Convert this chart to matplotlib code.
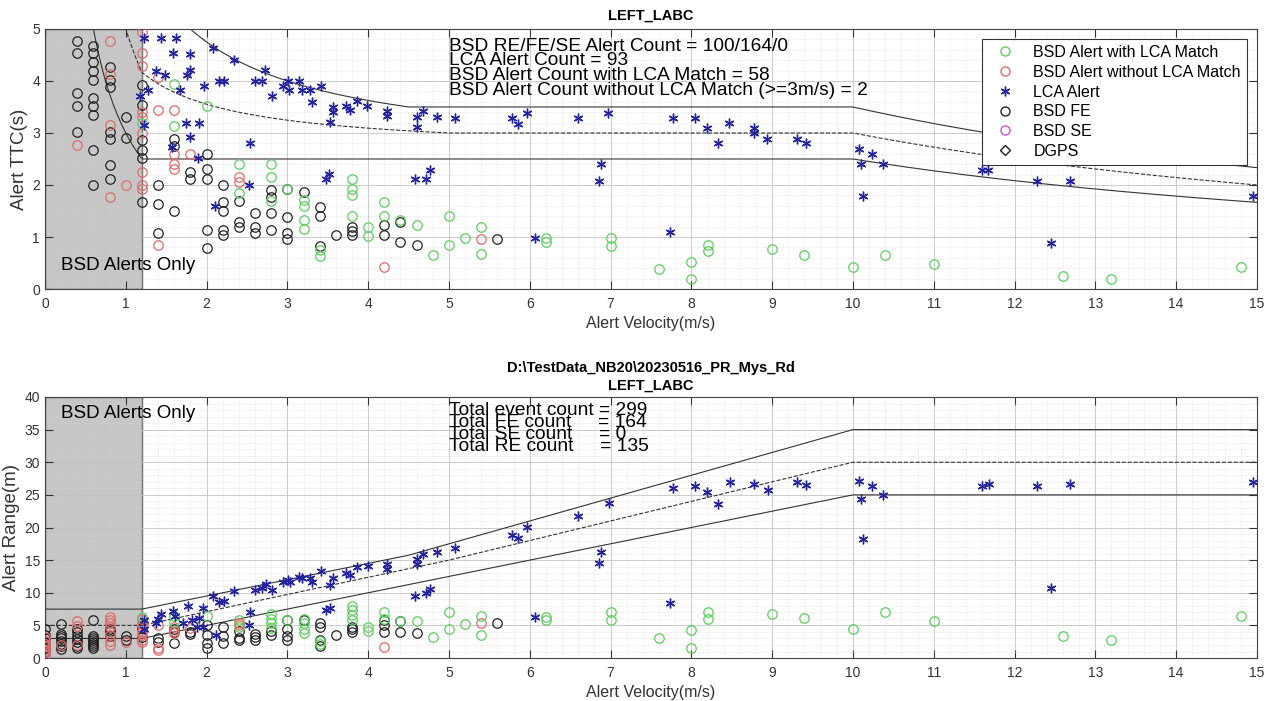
import numpy as np
import matplotlib
matplotlib.use('Agg')
import matplotlib.pyplot as plt
from matplotlib.ticker import MultipleLocator

plt.rcParams['font.family'] = ['Liberation Sans', 'DejaVu Sans']

# ---------------- top panel: TTC vs velocity ----------------
ttc_green_v = [1.2, 1.6, 1.6, 2.0, 2.4, 2.4, 2.8, 2.8, 2.8, 3.0, 3.2, 3.2, 3.2, 3.2, 3.4, 3.4, 3.8, 3.8, 3.8, 3.8,
               4.0, 4.0, 4.2, 4.2, 4.4, 4.6, 4.8, 5.0, 5.0, 5.2, 5.4, 5.4, 6.2, 6.2, 7.0, 7.0, 7.6, 8.0, 8.0,
               8.2, 8.2, 9.0, 9.4, 10.0, 10.4, 11.0, 12.6, 13.2, 14.8]
ttc_green_y = [3.2, 3.95, 3.13, 3.52, 2.41, 1.84, 2.41, 2.15, 1.70, 1.93, 1.72, 1.59, 1.32, 1.16, 0.64, 0.75, 2.11, 1.93, 1.80, 1.41,
               1.20, 1.01, 1.67, 1.41, 1.32, 1.24, 0.65, 1.41, 0.85, 0.99, 1.19, 0.67, 0.99, 0.91, 0.99, 0.83, 0.39, 0.51, 0.19,
               0.85, 0.73, 0.76, 0.65, 0.42, 0.65, 0.49, 0.25, 0.19, 0.42]

ttc_red_v = [0.4, 0.8, 0.8, 0.8, 0.8, 1.0, 1.2, 1.2, 1.2, 1.2, 1.2, 1.2, 1.2, 1.2, 1.2, 1.4, 1.4, 1.4,
             1.6, 1.6, 1.6, 1.6, 1.8, 2.4, 2.4, 4.2, 5.4]
ttc_red_y = [2.76, 4.77, 4.13, 3.15, 1.76, 2.0, 4.95, 4.53, 4.28, 3.40, 3.30, 3.0, 2.25, 2.0, 1.92, 4.08, 3.44, 0.85,
             3.44, 2.60, 2.41, 2.31, 2.60, 2.15, 2.06, 0.42, 0.97]

ttc_black_v = [0.4, 0.4, 0.4, 0.4, 0.4,
               0.6, 0.6, 0.6, 0.6, 0.6, 0.6, 0.6, 0.6, 0.6, 0.6,
               0.8, 0.8, 0.8, 0.8, 0.8, 0.8, 0.8,
               1.0, 1.0, 1.2, 1.2, 1.2, 1.2, 1.2, 1.2,
               1.4, 1.4, 1.4, 1.6, 1.6, 1.6, 1.8, 1.8,
               2.0, 2.0, 2.0, 2.0, 2.0, 2.2, 2.2, 2.2, 2.2, 2.2,
               2.4, 2.4, 2.4, 2.6, 2.6, 2.6, 2.8, 2.8, 2.8, 2.8,
               3.0, 3.0, 3.0, 3.0, 3.2, 3.4, 3.4, 3.4, 3.6, 3.8, 3.8, 3.8,
               4.2, 4.2, 4.4, 4.4, 4.6, 5.6]
ttc_black_y = [4.77, 4.53, 3.76, 3.52, 3.01,
               4.68, 4.53, 4.37, 4.19, 4.02, 3.68, 3.52, 3.34, 2.67, 2.0,
               4.26, 4.02, 3.89, 3.01, 2.88, 2.38, 2.12,
               3.30, 2.90, 3.92, 3.54, 2.86, 2.67, 2.52, 1.67,
               2.0, 1.64, 1.08, 2.89, 2.75, 1.50, 2.25, 2.11,
               2.60, 2.30, 2.11, 1.14, 0.79, 2.0, 1.67, 1.50, 1.14, 1.04,
               1.70, 1.29, 1.19, 1.47, 1.19, 1.08, 1.90, 1.77, 1.47, 1.14,
               1.93, 1.39, 1.08, 0.96, 1.86, 1.57, 1.41, 0.82, 1.03, 1.19, 1.12, 1.03,
               1.24, 1.04, 1.29, 0.90, 0.84, 0.97]

ttc_blue_v = [1.22, 1.18, 1.28, 1.22, 1.43, 1.62, 1.38, 1.49, 1.59, 1.80, 1.76, 1.79, 1.67, 1.74, 1.91, 1.80,
              1.57, 1.90, 1.97, 2.08, 2.16, 2.21, 2.34, 2.54, 2.52, 2.10, 2.60, 2.68, 2.72, 2.81, 2.95,
              3.01, 3.02, 3.15, 3.18, 3.28, 3.30, 3.42, 3.53, 3.57, 3.57, 3.73, 3.77, 3.86, 3.99, 4.23, 4.23,
              3.48, 3.52, 4.60, 4.60, 4.68, 4.58, 4.72, 4.76, 4.85, 5.07, 5.78, 5.85, 5.97, 6.60, 6.97,
              6.88, 6.86, 6.07, 7.74, 7.77, 8.04, 8.19, 8.33, 8.47, 8.77, 8.77, 8.94, 9.31, 9.42,
              10.07, 10.10, 10.23, 10.37, 10.12, 11.60, 11.67, 12.28, 12.69, 12.45, 14.95]
ttc_blue_y = [4.82, 3.72, 3.82, 3.15, 4.82, 4.82, 4.19, 4.11, 4.53, 4.52, 4.11, 4.22, 3.82, 3.20, 3.20, 2.92,
              2.73, 2.51, 3.90, 4.63, 4.0, 4.0, 4.40, 2.80, 2.0, 1.59, 4.0, 4.0, 4.21, 3.71, 3.90,
              4.0, 3.82, 4.0, 3.82, 3.82, 3.60, 3.90, 3.21, 3.50, 3.41, 3.52, 3.44, 3.61, 3.52, 3.42, 3.32,
              2.12, 2.22, 3.31, 3.12, 3.42, 2.11, 2.11, 2.29, 3.31, 3.29, 3.29, 3.18, 3.39, 3.29, 3.39,
              2.40, 2.08, 0.98, 1.10, 3.29, 3.29, 3.09, 2.80, 3.19, 3.09, 2.99, 2.89, 2.89, 2.80,
              2.70, 2.40, 2.59, 2.40, 1.79, 2.29, 2.29, 2.08, 2.08, 0.88, 1.79]

# ---------------- bottom panel: range vs velocity ----------------
rng_green_v = [1.2, 1.6, 1.6, 2.0, 2.4, 2.4, 2.8, 2.8, 2.8, 2.8, 3.0, 3.2, 3.2, 3.2, 3.2, 3.4, 3.4,
               3.8, 3.8, 3.8, 3.8, 4.0, 4.0, 4.2, 4.2, 4.4, 4.6, 4.8, 5.0, 5.0, 5.2, 5.4, 5.4,
               6.2, 6.2, 7.0, 7.0, 7.6, 8.0, 8.0, 8.2, 8.2, 9.0, 9.4, 10.0, 10.4, 11.0, 12.6, 13.2, 14.8]
rng_green_y = [6.3, 6.5, 5.5, 6.5, 5.9, 4.8, 6.8, 6.0, 5.3, 4.6, 5.8, 6.0, 5.3, 4.5, 3.8, 2.2, 2.6,
               7.9, 7.3, 6.6, 5.8, 4.8, 4.2, 7.0, 6.0, 5.7, 5.7, 3.2, 7.1, 4.4, 5.2, 6.4, 3.6,
               6.3, 5.8, 7.1, 5.9, 3.1, 4.25, 1.6, 7.0, 6.0, 6.8, 6.2, 4.4, 7.0, 5.6, 3.4, 2.7, 6.5]

rng_red_v = [0.0, 0.0, 0.0, 0.0, 0.0, 0.0, 0.0, 0.2, 0.4, 0.4, 0.4,
             0.8, 0.8, 0.8, 0.8, 0.8, 0.8, 0.8, 1.0, 1.2, 1.2, 1.2, 1.2, 1.2, 1.2, 1.2,
             1.4, 1.4, 1.4, 1.6, 1.6, 1.6, 1.8, 2.4, 2.4, 4.2, 5.4]
rng_red_y = [3.2, 2.6, 2.2, 1.8, 1.3, 0.9, 0.5, 2.0, 5.7, 4.9, 2.0,
             6.3, 5.9, 5.4, 4.8, 3.5, 2.6, 2.0, 2.4, 6.0, 5.4, 5.0, 4.0, 3.6, 2.8, 2.4,
             5.0, 1.6, 1.3, 4.8, 4.2, 3.8, 4.6, 5.3, 5.0, 1.7, 5.3]

rng_black_v = [0.0, 0.0, 0.0, 0.0, 0.0, 0.0, 0.0,
               0.2, 0.2, 0.2, 0.2, 0.2, 0.2, 0.2, 0.2,
               0.4, 0.4, 0.4, 0.4, 0.4, 0.4, 0.4,
               0.6, 0.6, 0.6, 0.6, 0.6, 0.6, 0.6, 0.6,
               0.8, 0.8, 0.8, 1.0, 1.0, 1.2, 1.2, 1.4, 1.4, 1.6, 1.6, 1.6, 1.8, 1.8,
               2.0, 2.0, 2.0, 2.0, 2.2, 2.2, 2.2, 2.4, 2.4, 2.4, 2.6, 2.6, 2.6, 2.8, 2.8,
               3.0, 3.0, 3.0, 3.0, 3.2, 3.4, 3.4, 3.4, 3.4, 3.6, 3.8, 3.8, 3.8,
               4.2, 4.2, 4.2, 4.4, 4.4, 4.6, 5.6]
rng_black_y = [4.4, 3.5, 3.0, 2.5, 2.0, 1.5, 1.0,
               5.2, 3.7, 3.3, 3.0, 2.6, 2.2, 1.8, 1.4,
               4.5, 4.0, 3.4, 2.9, 2.4, 1.9, 1.5,
               5.8, 3.3, 3.0, 2.7, 2.4, 2.1, 1.8, 1.5,
               4.5, 4.1, 3.3, 3.3, 2.8, 4.6, 3.2, 3.0, 2.5, 4.5, 4.0, 2.3, 4.0, 3.7,
               5.0, 3.6, 2.3, 1.6, 4.8, 3.3, 2.3, 4.1, 3.1, 2.8, 3.7, 3.2, 2.8, 4.2, 3.5,
               5.8, 4.4, 3.3, 2.8, 5.9, 5.3, 4.8, 2.8, 1.9, 3.6, 4.8, 4.4, 4.0,
               5.9, 5.0, 4.0, 5.7, 4.0, 3.8, 5.4]

rng_blue_v = [1.23, 1.22, 1.40, 1.38, 1.44, 1.58, 1.61, 1.71, 1.77, 1.82, 1.88, 1.96, 1.91, 1.96,
              2.08, 2.16, 2.22, 2.34, 2.54, 2.52, 2.12, 2.60, 2.68, 2.73, 2.81, 2.95, 3.01, 3.03,
              3.15, 3.18, 3.28, 3.30, 3.42, 3.53, 3.57, 3.73, 3.77, 3.86, 4.00, 4.23, 4.23, 3.48, 3.53,
              4.60, 4.60, 4.68, 4.85, 4.58, 4.72, 4.76, 5.07, 5.78, 5.85, 5.97, 6.60, 6.98, 6.88, 6.86,
              6.07, 7.74, 7.77, 8.04, 8.19, 8.33, 8.48, 8.77, 8.95, 9.31, 9.42,
              10.07, 10.10, 10.23, 10.37, 10.12, 11.60, 11.68, 12.28, 12.69, 12.45, 14.95]
rng_blue_y = [5.8, 4.5, 6.0, 5.4, 6.8, 7.25, 6.4, 5.3, 7.9, 5.8, 4.7, 7.6, 6.2, 4.7,
              9.5, 8.6, 8.8, 10.2, 7.0, 5.0, 3.6, 10.4, 10.8, 11.4, 10.4, 11.7, 11.9, 11.7,
              12.4, 12.2, 12.2, 11.7, 13.4, 11.2, 12.3, 13.0, 12.7, 13.9, 14.1, 14.4, 13.7, 7.4, 7.7,
              15.1, 14.4, 16.0, 16.2, 9.5, 9.9, 10.6, 16.8, 18.9, 18.4, 20.1, 21.8, 23.8, 16.2, 14.6,
              6.3, 8.4, 26.0, 26.4, 25.5, 23.6, 27.0, 26.7, 25.8, 26.9, 26.5,
              27.1, 24.3, 26.4, 25.0, 18.2, 26.4, 26.7, 26.4, 26.7, 10.8, 26.9]

# alert zone boundaries: (velocity, range) break points
upper_v = [0.0, 1.2, 4.5, 10.0, 15.0]
upper_r = [7.5, 7.5, 15.75, 35.0, 35.0]
mid_v = [0.0, 1.2, 5.0, 10.0, 15.0]
mid_r = [5.0, 5.0, 15.0, 30.0, 30.0]
lower_v = [0.0, 1.2, 10.0, 15.0]
lower_r = [3.0, 3.0, 25.0, 25.0]

bsd_only_v = 1.2

green = '#5ccf5c'
red = '#e06a6a'
blue = '#22229e'
black = '#222222'
star = (6, 2, 0)

fig = plt.figure(figsize=(12.74, 7.01), dpi=100)
ax1 = fig.add_axes([0.0353, 0.5877, 0.9513, 0.371])
ax2 = fig.add_axes([0.0353, 0.0613, 0.9513, 0.3724])

title = 'D:\\TestData_NB20\\20230516_PR_Mys_Rd\nLEFT_LABC'


def setup(ax, ymax, ymajor, yminor, ylabel, pad, tspace):
    ax.axvspan(0, bsd_only_v, facecolor='#c6c6c6', edgecolor='#555555', lw=1.0, zorder=0.5)
    ax.set_xlim(0, 15)
    ax.set_ylim(0, ymax)
    ax.xaxis.set_major_locator(MultipleLocator(1))
    ax.xaxis.set_minor_locator(MultipleLocator(0.2))
    ax.yaxis.set_major_locator(MultipleLocator(ymajor))
    ax.yaxis.set_minor_locator(MultipleLocator(yminor))
    ax.grid(True, which='major', color='#c4c4c4', lw=0.6, zorder=0)
    ax.grid(True, which='minor', color='#d6d6d6', lw=0.5, ls=':', zorder=0)
    ax.set_axisbelow(True)
    ax.tick_params(which='major', direction='in', length=6, top=True, right=True,
                   labelsize=10, labelcolor='#333333', color='#333333')
    ax.tick_params(axis='x', which='major', pad=6)
    ax.tick_params(which='minor', length=0)
    for s in ax.spines.values():
        s.set_color('#444444')
        s.set_linewidth(0.8)
    ax.set_xlabel('Alert Velocity(m/s)', fontsize=11.5, color='#333333', labelpad=3)
    ax.set_ylabel(ylabel, fontsize=13.5, color='#333333', labelpad=3)
    ax.set_title(title, fontsize=10.5, fontweight='bold', linespacing=tspace, pad=pad)


def draw_points(ax, v, y, color, marker, ms=6.8):
    ax.plot(v, y, ls='none', marker=marker, mfc='none', mec=color, ms=ms, mew=0.9, zorder=3)


# top panel
setup(ax1, 5, 1, 0.2, 'Alert TTC(s)', 7, 1.75)
vv = np.linspace(0.3, 15, 600)
for bv, br, ls in [(upper_v, upper_r, '-'), (mid_v, mid_r, '--'), (lower_v, lower_r, '-')]:
    ax1.plot(vv, np.interp(vv, bv, br) / vv, color='#333333', lw=0.8, ls=ls, zorder=2)
draw_points(ax1, ttc_black_v, ttc_black_y, black, 'o')
draw_points(ax1, ttc_red_v, ttc_red_y, red, 'o')
draw_points(ax1, ttc_green_v, ttc_green_y, green, 'o')
ax1.plot(ttc_blue_v, ttc_blue_y, ls='none', marker=star, color=blue, ms=7, mew=1.0, zorder=4)

h1, = ax1.plot([], [], ls='none', marker='o', mfc='none', mec=green, ms=6.5)
h2, = ax1.plot([], [], ls='none', marker='o', mfc='none', mec=red, ms=6.5)
h3, = ax1.plot([], [], ls='none', marker=star, color=blue, ms=7)
h4, = ax1.plot([], [], ls='none', marker='o', mfc='none', mec=black, ms=6.5)
h5, = ax1.plot([], [], ls='none', marker='o', mfc='none', mec='#d050d0', ms=6.5)
h6, = ax1.plot([], [], ls='none', marker='D', mfc='none', mec=black, ms=5.5)
leg = ax1.legend([h1, h2, h3, h4, h5, h6],
                 ['BSD Alert with LCA Match', 'BSD Alert without LCA Match', 'LCA Alert',
                  'BSD FE', 'BSD SE', 'DGPS'],
                 loc='upper right', fontsize=11.5, fancybox=False, framealpha=1,
                 edgecolor='#333333', borderaxespad=0.6, labelspacing=0.3, handletextpad=0.8,
                 borderpad=0.4)
leg.get_frame().set_linewidth(0.8)

ax1.text(5.0, 4.83, 'BSD RE/FE/SE Alert Count = 100/164/0\nLCA Alert Count = 93\n'
         'BSD Alert Count with LCA Match = 58\nBSD Alert Count without LCA Match (>=3m/s) = 2',
         fontsize=13.8, va='top', ha='left', linespacing=0.82, zorder=5)
ax1.text(0.2, 0.46, 'BSD Alerts Only', fontsize=13.5, va='center', ha='left', zorder=5)

# bottom panel
setup(ax2, 40, 5, 1, 'Alert Range(m)', 5, 1.35)
for bv, br, ls in [(upper_v, upper_r, '-'), (mid_v, mid_r, '--'), (lower_v, lower_r, '-')]:
    ax2.plot(bv, br, color='#333333', lw=0.8, ls=ls, zorder=2)
draw_points(ax2, rng_black_v, rng_black_y, black, 'o')
draw_points(ax2, rng_red_v, rng_red_y, red, 'o')
draw_points(ax2, rng_green_v, rng_green_y, green, 'o')
ax2.plot(rng_blue_v, rng_blue_y, ls='none', marker=star, color=blue, ms=7, mew=1.0, zorder=4)

ax2.text(5.0, 39.3, 'Total event count = 299\nTotal FE count     = 164\n'
         'Total SE count     = 0\nTotal RE count     = 135',
         fontsize=13.8, va='top', ha='left', linespacing=0.63, zorder=5)
ax2.text(0.2, 38.8, 'BSD Alerts Only', fontsize=13.5, va='top', ha='left', zorder=5)

fig.savefig('out.png', dpi=100)
